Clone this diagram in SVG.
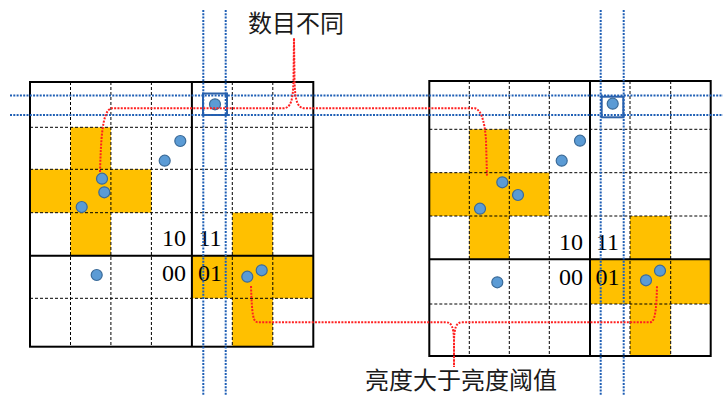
<svg xmlns="http://www.w3.org/2000/svg" width="723" height="396" viewBox="0 0 723 396">
<style>
.y{fill:#FFC000}
.g{stroke:#000;stroke-width:1;stroke-dasharray:3 2;fill:none}
.t{stroke:#000;stroke-width:2;fill:none}
.d{fill:#5B9BD5;stroke:#3A6A98;stroke-width:1.2}
.bl{stroke:#1F5FB5;stroke-width:2;stroke-dasharray:2 1.3;fill:none}
.rd{stroke:#FF2020;stroke-width:2;stroke-dasharray:2 1.3;fill:none}
.sq{stroke:#2E62A8;stroke-width:2;fill:none}
.n{font-family:"Liberation Serif",serif;font-size:24px;fill:#000}
.c{font-family:"Noto Sans CJK SC",sans-serif;font-size:24px;fill:#1a1a1a}
</style>
<rect width="723" height="396" fill="#fff"/>
<g id="grid-left">
<rect class="y" x="70.5" y="127.3" width="40.4" height="128.4"/>
<rect class="y" x="30" y="169.3" width="121.4" height="43.4"/>
<rect class="y" x="232.3" y="212.7" width="40.5" height="134"/>
<rect class="y" x="191.9" y="255.7" width="121.4" height="42.6"/>
<path class="g" d="M70.5 82V346.7M110.9 82V346.7M151.4 82V346.7M232.3 82V346.7M272.8 82V346.7M30 127.3H313.3M30 169.3H313.3M30 212.7H313.3M30 298.3H313.3"/>
<path class="t" d="M191.9 82V346.7M30 255.7H313.3"/>
<rect class="t" x="30" y="82" width="283.3" height="264.7"/>
<circle class="d" cx="180.3" cy="141" r="5.5"/>
<circle class="d" cx="164.7" cy="160.7" r="5.5"/>
<circle class="d" cx="102" cy="178.7" r="5.5"/>
<circle class="d" cx="104.3" cy="192.3" r="5.5"/>
<circle class="d" cx="81.7" cy="207" r="5.5"/>
<circle class="d" cx="96.7" cy="275" r="5.5"/>
<circle class="d" cx="247.3" cy="276.7" r="5.5"/>
<circle class="d" cx="261.7" cy="270.3" r="5.5"/>
<circle class="d" cx="215" cy="104.3" r="5.5"/>
<rect class="sq" x="203" y="93.5" width="24" height="21.5"/>
<text class="n" x="186" y="246" text-anchor="end">10</text>
<text class="n" x="198.5" y="246">11</text>
<text class="n" x="186" y="280.5" text-anchor="end">00</text>
<text class="n" x="198" y="280.5">01</text>
</g>
<g id="grid-right">
<rect class="y" x="469.3" y="129.3" width="40" height="130"/>
<rect class="y" x="429.3" y="172.7" width="120" height="43.3"/>
<rect class="y" x="630" y="216" width="40.7" height="140"/>
<rect class="y" x="590" y="259.3" width="120.7" height="44.7"/>
<path class="g" d="M469.3 81V356M509.3 81V356M549.3 81V356M630 81V356M670.7 81V356M429.3 129.3H710.7M429.3 172.7H710.7M429.3 216H710.7M429.3 304H710.7"/>
<path class="t" d="M590 81V356M429.3 259.3H710.7"/>
<rect class="t" x="429.3" y="81" width="281.4" height="275"/>
<circle class="d" cx="580" cy="140.7" r="5.5"/>
<circle class="d" cx="561.7" cy="160.7" r="5.5"/>
<circle class="d" cx="502.3" cy="182.3" r="5.5"/>
<circle class="d" cx="518" cy="195" r="5.5"/>
<circle class="d" cx="480" cy="208.7" r="5.5"/>
<circle class="d" cx="497.3" cy="282.3" r="5.5"/>
<circle class="d" cx="646" cy="280.3" r="5.5"/>
<circle class="d" cx="660" cy="270.7" r="5.5"/>
<circle class="d" cx="612.7" cy="103.7" r="5.5"/>
<rect class="sq" x="601.7" y="96.7" width="21.6" height="20.6"/>
<text class="n" x="583" y="250" text-anchor="end">10</text>
<text class="n" x="596" y="250">11</text>
<text class="n" x="583" y="285" text-anchor="end">00</text>
<text class="n" x="595.5" y="285">01</text>
</g>
<g id="connectors">
<path class="bl" d="M10 95.5H723M10 115H723M203.3 10V396M225.7 10V396M600.7 10V396M623.7 10V396"/>
<path class="rd" d="M100 172C101 140 102 112 111 108.3L283 108.3C291 108.3 293 100 293.5 80L294 38L294.5 80C295 100 297 108.3 305 108.3L475 108.3C482 110 485 125 486 140L487 177"/>
<path class="rd" d="M251 286C252 315 253 322.3 258 322.3L446 322.3C452 322.3 453.5 328 454 340L454 367L454 340C454.5 328 456 322.3 462 322.3L650 322.3C655 322.3 656.5 310 657 285"/>
</g>
<g id="labels">
<text class="c" x="248" y="31.5">数目不同</text>
<text class="c" x="365" y="388.5">亮度大于亮度阈值</text>
</g>
</svg>
